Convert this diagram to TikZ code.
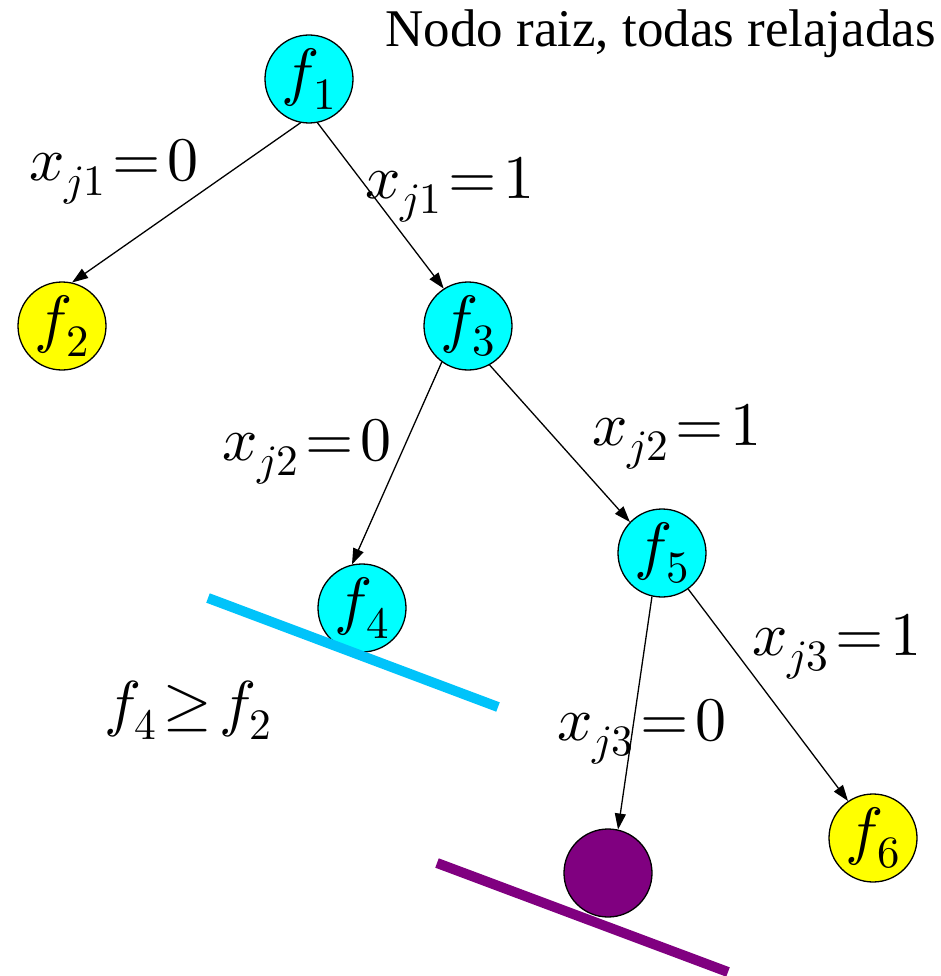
\documentclass[tikz,border=0pt]{standalone}
\usepackage{amsmath}
\usepackage{fontspec}
\usepackage{unicode-math}
\setmainfont{Liberation Serif}
\setmathfont{Latin Modern Math}
\usepackage{xcolor}
\usepackage{tikz}
\usetikzlibrary{arrows.meta, positioning}

\definecolor{nodecyan}{RGB}{0,255,255}
\definecolor{nodeyellow}{RGB}{255,255,0}
\definecolor{barblue}{RGB}{0,195,250}
\definecolor{nodepurple}{RGB}{128,0,128}

\begin{document}
\begin{tikzpicture}[x=1pt, y=-1pt,
    fnode/.style={circle, draw, line width=1.3pt, minimum size=88pt, inner sep=0pt, font=\fontsize{64}{64}\selectfont},
    branch/.style={-{Triangle[length=16pt, width=11pt]}, line width=1.3pt},
    lab/.style={font=\fontsize{62}{62}\selectfont, inner sep=0pt},
    bar/.style={line width=10pt}]
    \useasboundingbox (0,0) rectangle (941,976);
    % nodos del arbol
    \node[fnode, fill=nodecyan] (f1) at (309,79) {$f_1$};
    \node[fnode, fill=nodeyellow] (f2) at (62,326) {$f_2$};
    \node[fnode, fill=nodecyan] (f3) at (468,326) {$f_3$};
    \node[fnode, fill=nodecyan] (f4) at (362,608) {$f_4$};
    \node[fnode, fill=nodecyan] (f5) at (662,553) {$f_5$};
    \node[fnode, fill=nodepurple] (f7) at (608,873) {};
    \node[fnode, fill=nodeyellow] (f6) at (873,838) {$f_6$};
    % ramas
    \draw[branch] (f1.-101) -- (f2.77);
    \draw[branch] (f1.-79) -- (f3.123);
    \draw[branch] (f3.-126) -- (f4.103);
    \draw[branch] (f3.-61) -- (f5.136);
    \draw[branch] (f5.-103) -- (f7.77);
    \draw[branch] (f5.-54) -- (f6.124);
    % etiquetas
    \node[lab] (l1) at (114,172) {$x_{j1}\!=\!0$};
    \node[lab] (l2) at (450,190) {$x_{j1}\!=\!1$};
    \node[lab] (l3) at (307,452) {$x_{j2}\!=\!0$};
    \node[lab] (l4) at (677,437) {$x_{j2}\!=\!1$};
    \node[lab] (l5) at (837,647) {$x_{j3}\!=\!1$};
    \node[lab] (l6) at (642,732) {$x_{j3}\!=\!0$};
    \node[lab] (cmp) at (188,710) {$f_4\!\geq\! f_2$};
    \node[font=\fontsize{53}{53}\selectfont, anchor=north east, inner sep=0pt] (title) at (936,10) {Nodo raiz, todas relajadas};
    % cortes
    \draw[bar, barblue] (208,598) -- (498,707);
    \draw[bar, nodepurple] (437,863) -- (728,972);
\end{tikzpicture}
\end{document}
